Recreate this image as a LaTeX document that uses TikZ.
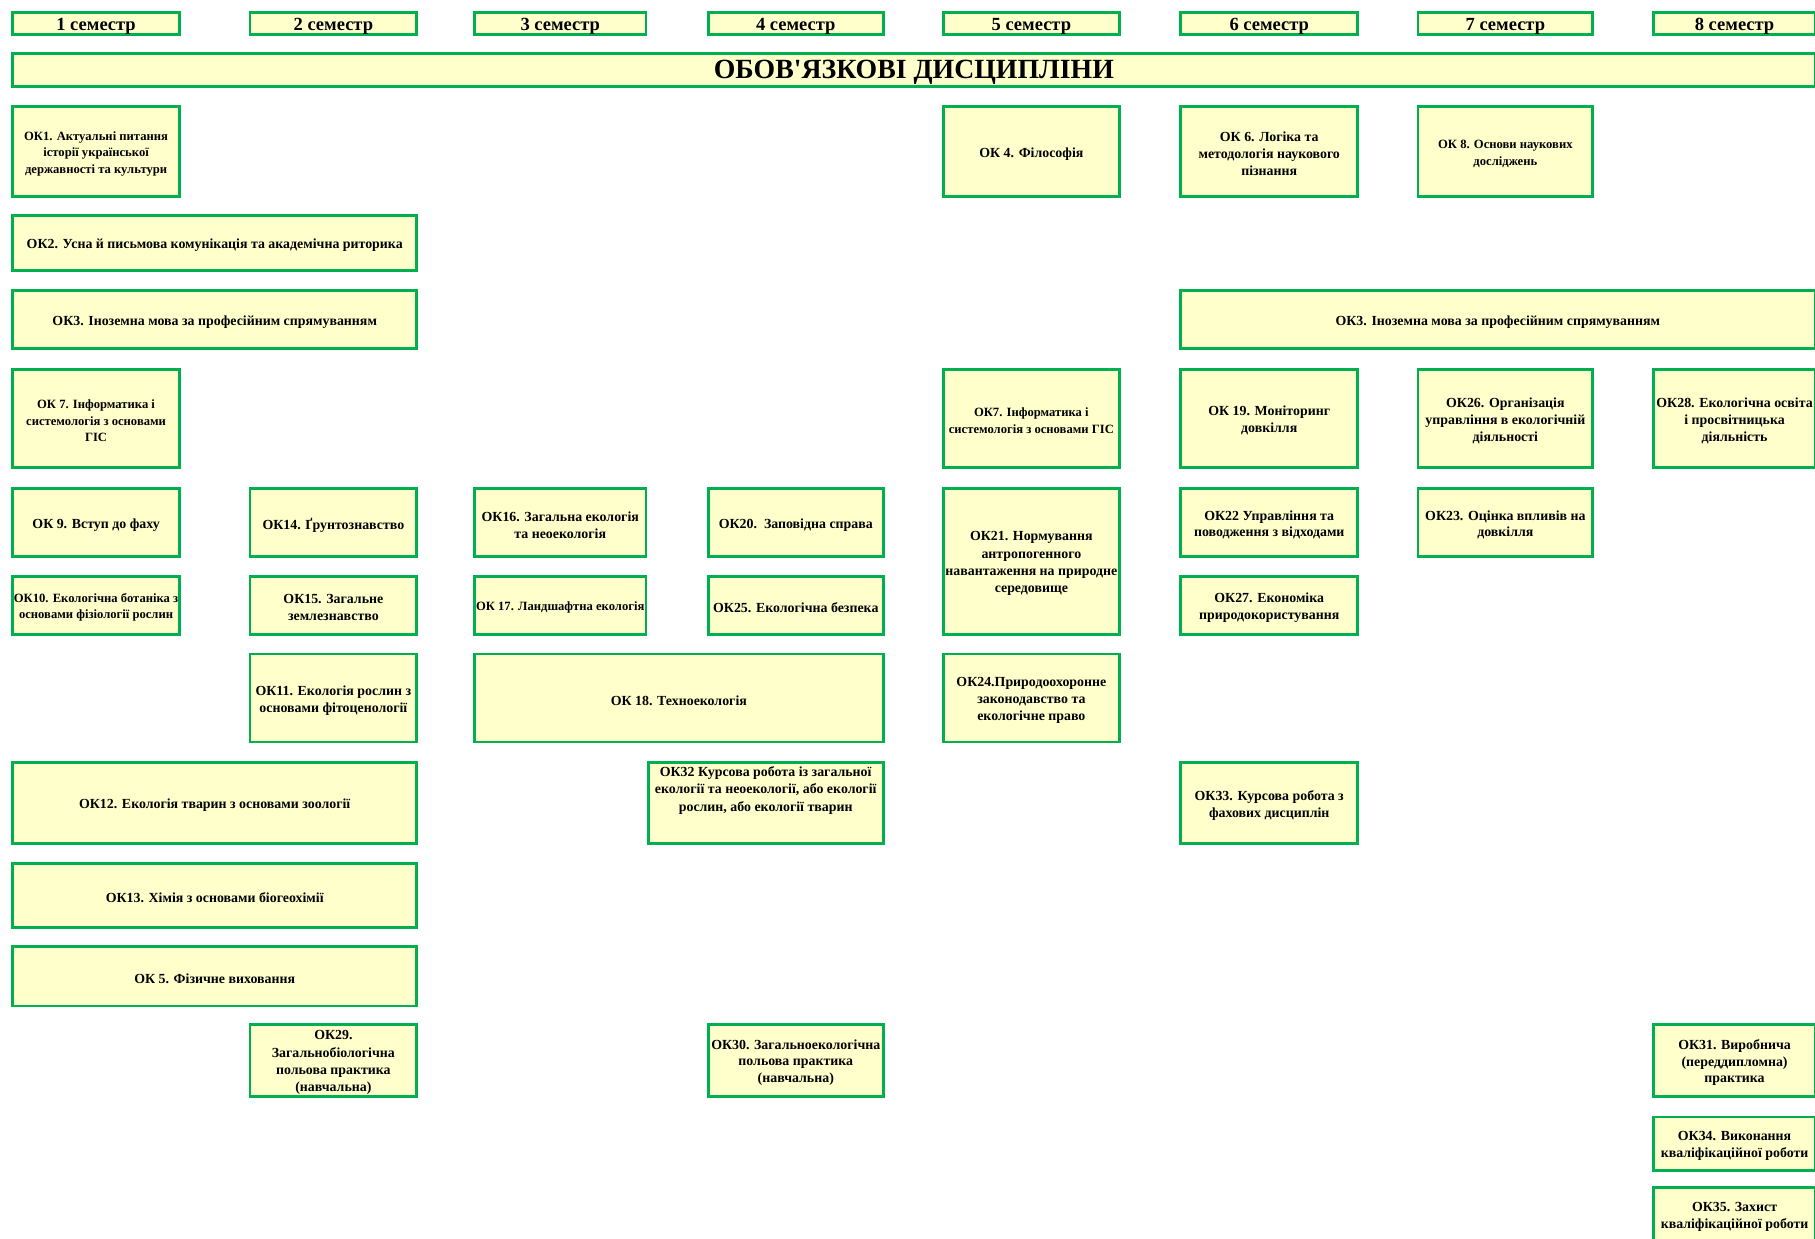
\documentclass[tikz,border=0pt]{standalone}
\usepackage{fontspec}
\setmainfont{Liberation Serif}
\newfontfamily\titlefont{Liberation Serif}
\definecolor{okgreen}{HTML}{00B050}
\definecolor{okfill}{HTML}{FFFFCC}
\begin{document}
\begin{tikzpicture}[x=0.5pt,y=-0.5pt,
  bx/.style={draw=okgreen, fill=okfill, line width=1.2pt, inner sep=1pt},
  lbl/.style={align=center, inner sep=0pt, yshift=-1pt, font=\fontsize{6}{7.25}\selectfont\bfseries},
  t/.style={label={[lbl]center:{#1}}},
  ts/.style={label={[lbl,font=\fontsize{5.45}{7}\selectfont\bfseries]center:{#1}}},
  sem/.style={bx, minimum height=9.5pt, label={[lbl,font=\fontsize{8}{9}\selectfont\bfseries]center:{#1}}},
  wA/.style={minimum width=72pt},
  wB/.style={minimum width=72pt},
  wC/.style={minimum width=74pt},
  wD/.style={minimum width=75.5pt},
  wE/.style={minimum width=76pt},
  wF/.style={minimum width=76.5pt},
  wG/.style={minimum width=75.5pt},
  wH/.style={minimum width=70pt},
  h/.style={minimum height=#1}
]
\useasboundingbox (0,0) rectangle (1568,1070);
% semesters
\node[sem={1 семестр},wA] (s1) at (83,20.5) {};
\node[sem={2 семестр},wB] (s2) at (288,20.5) {};
\node[sem={3 семестр},wC] (s3) at (484,20.5) {};
\node[sem={4 семестр},wD] (s4) at (687.5,20.5) {};
\node[sem={5 семестр},wE] (s5) at (891,20.5) {};
\node[sem={6 семестр},wF] (s6) at (1096.5,20.5) {};
\node[sem={7 семестр},wG] (s7) at (1300.5,20.5) {};
\node[sem={8 семестр},wH] (s8) at (1498.5,20.5) {};
% title
\node[bx, minimum width=778.5pt, minimum height=14.5pt,
  label={[lbl,font=\fontsize{12}{14}\titlefont\bfseries]center:{ОБОВ'ЯЗКОВІ ДИСЦИПЛІНИ}}] (title) at (789.5,60.5) {};
% row 1
\node[bx,wA,h=39pt,ts={ОК1. Актуальні питання\\історії української\\державності та культури}] (ok1) at (83,131) {};
\node[bx,wE,h=39pt,t={ОК 4. Філософія}] (ok4) at (891,131) {};
\node[bx,wF,h=39pt,t={ОК 6. Логіка та\\методологія наукового\\пізнання}] (ok6) at (1096.5,131) {};
\node[bx,wG,h=39pt,ts={ОК 8. Основи наукових\\досліджень}] (ok8) at (1300.5,131) {};
% OK2, OK3
\node[bx,minimum width=174.5pt,h=24pt,t={ОК2. Усна й письмова комунікація та академічна риторика}] (ok2) at (185.5,210) {};
\node[bx,minimum width=174.5pt,h=25pt,t={ОК3. Іноземна мова за професійним спрямуванням}] (ok3a) at (185.5,276) {};
\node[bx,minimum width=274pt,h=25pt,t={ОК3. Іноземна мова за професійним спрямуванням}] (ok3b) at (1294,276) {};
% row OK7
\node[bx,wA,h=42.5pt,ts={ОК 7. Інформатика і\\системологія з основами\\ГІС}] (ok7a) at (83,361.5) {};
\node[bx,wE,h=42.5pt,ts={ОК7. Інформатика і\\системологія з основами ГІС}] (ok7b) at (891,361.5) {};
\node[bx,wF,h=42.5pt,t={ОК 19. Моніторинг\\довкілля}] (ok19) at (1096.5,361.5) {};
\node[bx,wG,h=42.5pt,t={ОК26. Організація\\управління в екологічній\\діяльності}] (ok26) at (1300.5,361.5) {};
\node[bx,wH,h=42.5pt,t={ОК28. Екологічна освіта\\і просвітницька\\діяльність}] (ok28) at (1498.5,361.5) {};
% row OK9
\node[bx,wA,h=29.5pt,t={ОК 9. Вступ до фаху}] (ok9) at (83,451.5) {};
\node[bx,wB,h=29.5pt,t={ОК14. Ґрунтознавство}] (ok14) at (288,451.5) {};
\node[bx,wC,h=29.5pt,t={ОК16. Загальна екологія\\та неоекологія}] (ok16) at (484,451.5) {};
\node[bx,wD,h=29.5pt,t={ОК20.\ \ Заповідна справа}] (ok20) at (687.5,451.5) {};
\node[bx,wE,h=63pt,label={[lbl,font=\fontsize{6}{7.5}\selectfont\bfseries]center:{ОК21. Нормування\\антропогенного\\навантаження на природне\\середовище}}] (ok21) at (891,485) {};
\node[bx,wF,h=29.5pt,t={ОК22 Управління та\\поводження з відходами}] (ok22) at (1096.5,451.5) {};
\node[bx,wG,h=29.5pt,t={ОК23. Оцінка впливів на\\довкілля}] (ok23) at (1300.5,451.5) {};
% row OK10
\node[bx,wA,h=25pt,ts={ОК10. Екологічна ботаніка з\\основами фізіології рослин}] (ok10) at (83,523) {};
\node[bx,wB,h=25pt,t={ОК15. Загальне\\землезнавство}] (ok15) at (288,523) {};
\node[bx,wC,h=25pt,ts={ОК 17. Ландшафтна екологія}] (ok17) at (484,523) {};
\node[bx,wD,h=25pt,t={ОК25. Екологічна безпека}] (ok25) at (687.5,523) {};
\node[bx,wF,h=25pt,t={ОК27. Економіка\\природокористування}] (ok27) at (1096.5,523) {};
% row OK11
\node[bx,wB,h=38pt,t={ОК11. Екологія рослин з\\основами фітоценології}] (ok11) at (288,603) {};
\node[bx,minimum width=176.5pt,h=38pt,t={ОК 18. Техноекологія}] (ok18) at (586.5,603) {};
\node[bx,wE,h=38pt,t={ОК24.Природоохоронне\\законодавство та\\екологічне право}] (ok24) at (891,603) {};
% row OK12
\node[bx,minimum width=174.5pt,h=35pt,t={ОК12. Екологія тварин з основами зоології}] (ok12) at (185.5,694) {};
\node[bx,minimum width=101.5pt,h=35pt,
  label={[anchor=north,yshift=-2pt,align=center,inner sep=0pt,font=\fontsize{6}{7.5}\selectfont\bfseries]north:{ОК32 Курсова робота із загальної\\екології та неоекології, або екології\\рослин, або екології тварин}}] (ok32) at (661.5,694) {};
\node[bx,wF,h=35pt,t={ОК33. Курсова робота з\\фахових дисциплін}] (ok33) at (1096.5,694) {};
% OK13, OK5
\node[bx,minimum width=174.5pt,h=27.5pt,t={ОК13. Хімія з основами біогеохімії}] (ok13) at (185.5,773.5) {};
\node[bx,minimum width=174.5pt,h=25.5pt,t={ОК 5. Фізичне виховання}] (ok5) at (185.5,843.5) {};
% practices
\node[bx,wB,h=31pt,label={[lbl,yshift=0pt,font=\fontsize{6}{7.55}\selectfont\bfseries]center:{ОК29.\\Загальнобіологічна\\польова практика\\(навчальна)}}] (ok29) at (288,916) {};
\node[bx,wD,h=31pt,t={ОК30. Загальноекологічна\\польова практика\\(навчальна)}] (ok30) at (687.5,916) {};
\node[bx,wH,h=31pt,t={ОК31. Виробнича\\(переддипломна)\\практика}] (ok31) at (1498.5,916) {};
\node[bx,wH,h=23pt,t={ОК34. Виконання\\кваліфікаційної роботи}] (ok34) at (1498.5,988) {};
\node[bx,wH,h=23pt,t={ОК35. Захист\\кваліфікаційної роботи}] (ok35) at (1498.5,1049) {};
\end{tikzpicture}
\end{document}
